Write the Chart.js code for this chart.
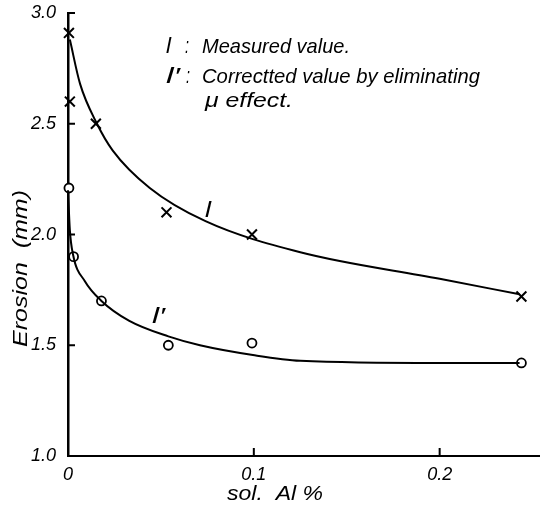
<!DOCTYPE html>
<html lang="en">
<head>
    <meta charset="UTF-8">
    <title>Erosion vs sol. Al</title>
    <script src="https://cdn.jsdelivr.net/npm/chart.js"></script>
    <style>
        body {
            margin: 0;
            background: #fff;
        }
        #wrap {
            width: 540px;
            height: 507px;
        }
    </style>
</head>
<body>
    <div id="wrap">
        <canvas id="erosionChart" width="540" height="507"></canvas>
    </div>

    <script>
        // Puntos medidos (l) y corregidos (l')
        const measuredX = [0.0005, 0.001, 0.015, 0.053, 0.099, 0.244];
        const measuredY = [2.91, 2.60, 2.50, 2.10, 2.00, 1.72];
        const correctedX = [0.0005, 0.003, 0.018, 0.054, 0.099, 0.244];
        const correctedY = [2.21, 1.90, 1.70, 1.50, 1.51, 1.42];

        // Curvas trazadas a mano sobre los puntos
        const curveLX = [0.001, 0.0065, 0.0156, 0.024, 0.044, 0.074, 0.125, 0.2, 0.243];
        const curveLY = [2.88, 2.68, 2.50, 2.38, 2.21, 2.06, 1.92, 1.80, 1.73];
        const curveL2X = [0, 0.001, 0.0027, 0.009, 0.018, 0.033, 0.054, 0.071, 0.0995, 0.125, 0.2, 0.243];
        const curveL2Y = [2.20, 2.02, 1.91, 1.79, 1.70, 1.61, 1.54, 1.50, 1.456, 1.43, 1.42, 1.42];

        // Ejes
        const xTicks = [0, 0.1, 0.2];
        const yTicks = [1.0, 1.5, 2.0, 2.5, 3.0];

        const toPoints = (xs, ys) => xs.map((x, i) => ({ x: x, y: ys[i] }));

        // Texto cursivo estrecho, como el original
        function drawText(ctx, s, x, y, size, width, angle) {
            ctx.save();
            ctx.font = "italic " + size + "px 'Liberation Sans'";
            ctx.fillStyle = "#000";
            ctx.textBaseline = "alphabetic";
            ctx.textAlign = "left";
            const m = ctx.measureText(s).width;
            ctx.translate(x, y);
            if (angle) ctx.rotate(angle);
            ctx.scale(width / m, 1);
            ctx.fillText(s, 0, 0);
            ctx.restore();
        }

        const annotations = {
            id: "annotations",
            afterDraw(chart) {
                const ctx = chart.ctx;
                const xs = chart.scales.x;
                const ys = chart.scales.y;

                // marcas cortas hacia dentro
                ctx.save();
                ctx.strokeStyle = "#000";
                ctx.lineWidth = 2;
                ctx.beginPath();
                yTicks.forEach(v => {
                    const py = ys.getPixelForValue(v);
                    ctx.moveTo(xs.left, py);
                    ctx.lineTo(xs.left + 7, py);
                });
                xTicks.forEach(v => {
                    const px = xs.getPixelForValue(v);
                    ctx.moveTo(px, ys.bottom);
                    ctx.lineTo(px, ys.bottom - 8);
                });
                ctx.stroke();
                ctx.restore();

                // leyenda
                drawText(ctx, "l", 166, 53, 22, 5);
                drawText(ctx, ":", 185, 53, 22, 4);
                drawText(ctx, "Measured value.", 202, 53, 21, 148);
                drawText(ctx, "l\u2032", 166, 83, 22, 14);
                drawText(ctx, ":", 186, 83, 22, 4);
                drawText(ctx, "Correctted value by eliminating", 202, 83, 21, 278);
                drawText(ctx, "\u03bc effect.", 205, 107, 21, 88);

                // etiquetas de curvas
                drawText(ctx, "l", 205, 217, 22, 6);
                drawText(ctx, "l\u2032", 152, 323, 22, 13);

                // titulos de ejes
                drawText(ctx, "sol.  Al %", 227, 500, 20, 96);
                drawText(ctx, "Erosion  (mm)", 27, 347, 21, 157, -Math.PI / 2);
            }
        };

        const chart = new Chart(document.getElementById("erosionChart"), {
            type: "scatter",
            data: {
                datasets: [
                    {
                        label: "l",
                        data: toPoints(curveLX, curveLY),
                        showLine: true,
                        borderColor: "#000",
                        borderWidth: 2,
                        pointRadius: 0,
                        cubicInterpolationMode: "monotone",
                        clip: false
                    },
                    {
                        label: "l'",
                        data: toPoints(curveL2X, curveL2Y),
                        showLine: true,
                        borderColor: "#000",
                        borderWidth: 2,
                        pointRadius: 0,
                        cubicInterpolationMode: "monotone",
                        clip: false
                    },
                    {
                        label: "Measured",
                        data: toPoints(measuredX, measuredY),
                        pointStyle: "crossRot",
                        pointRadius: 7,
                        borderColor: "#000",
                        borderWidth: 2,
                        clip: false
                    },
                    {
                        label: "Corrected",
                        data: toPoints(correctedX, correctedY),
                        pointStyle: "circle",
                        pointRadius: 4.5,
                        backgroundColor: "#fff",
                        borderColor: "#000",
                        borderWidth: 1.8,
                        clip: false
                    }
                ]
            },
            options: {
                responsive: false,
                animation: false,
                layout: { autoPadding: false, padding: { top: 13, right: 0, left: 0, bottom: 0 } },
                plugins: {
                    legend: { display: false },
                    tooltip: { enabled: false }
                },
                scales: {
                    x: {
                        type: "linear",
                        min: 0,
                        max: 0.254,
                        afterFit: s => { s.height = 51; s.paddingLeft = 0; s.paddingRight = 0; },
                        afterBuildTicks: s => { s.ticks = xTicks.map(v => ({ value: v })); },
                        grid: { display: false, drawTicks: false },
                        border: { display: true, color: "#000", width: 2 },
                        ticks: {
                            padding: 8,
                            color: "#000",
                            font: { family: "'Liberation Sans'", size: 18, style: "italic" },
                            callback: v => v === 0 ? "0" : v.toFixed(1)
                        }
                    },
                    y: {
                        min: 1,
                        max: 3,
                        afterFit: s => { s.width = 68; s.paddingTop = 0; s.paddingBottom = 0; },
                        afterBuildTicks: s => { s.ticks = yTicks.map(v => ({ value: v })); },
                        grid: { display: false, drawTicks: false },
                        border: { display: true, color: "#000", width: 2.5 },
                        ticks: {
                            padding: 12,
                            color: "#000",
                            font: { family: "'Liberation Sans'", size: 18, style: "italic" },
                            callback: v => v.toFixed(1)
                        }
                    }
                }
            },
            plugins: [annotations]
        });
    </script>
</body>
</html>
